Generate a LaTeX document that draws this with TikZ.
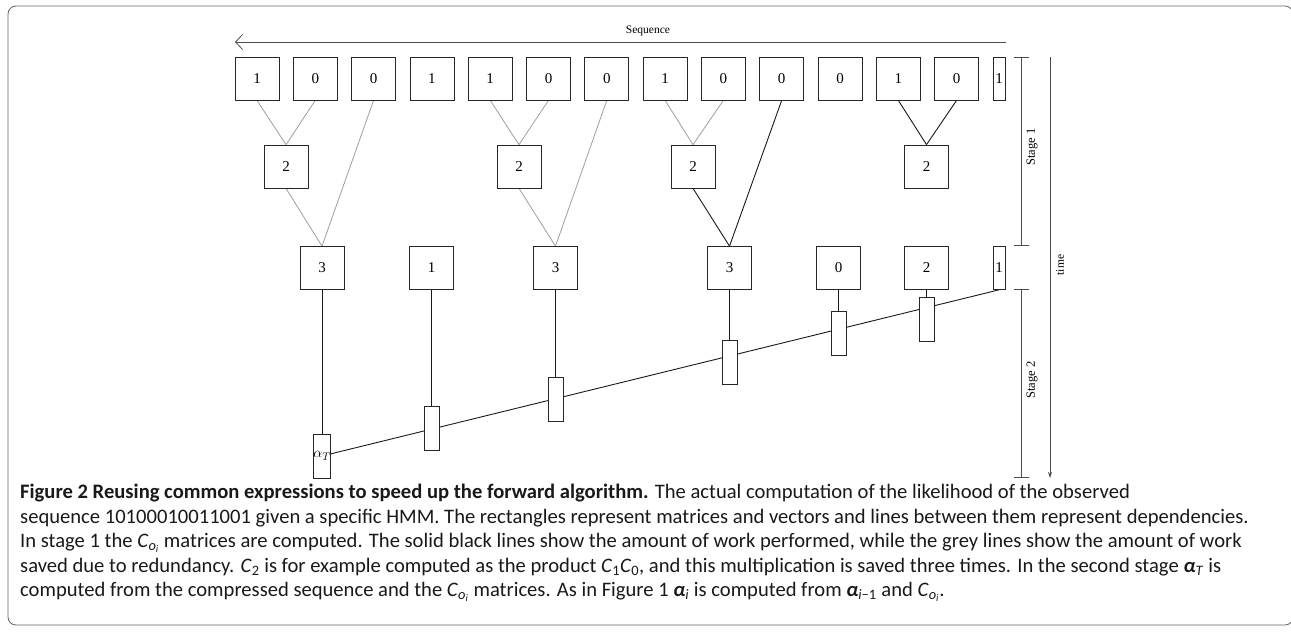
\documentclass[tikz,border=0pt]{standalone}
\usepackage{fontspec}
\setmainfont{Liberation Serif}
\newfontfamily\capfont{Carlito}
\usetikzlibrary{arrows.meta,backgrounds}
\newcommand{\Coi}{\textit{C}\textsubscript{\textit{o}\textsubscript{\textit{i}}}}
\newcommand{\balpha}{\textbf{\textit{α}}}
\begin{document}
\begin{tikzpicture}[x=1pt,y=-1pt,
  mbox/.style={draw=black!85, line width=0.7pt, fill=white, minimum width=44pt, minimum height=43pt, inner sep=0pt, font=\fontsize{15}{15}\selectfont},
  nbox/.style={mbox, minimum width=12pt},
  vbox/.style={draw=black!85, line width=0.7pt, fill=white, minimum width=15pt, minimum height=44pt, inner sep=0pt},
  saved/.style={draw=black!38, line width=0.8pt},
  work/.style={draw=black!90, line width=0.9pt},
  dep/.style={draw=black!90, line width=0.9pt},
  axis/.style={draw=black!70, line width=0.8pt},
  lbl/.style={font=\fontsize{12.5}{12.5}\selectfont, inner sep=0pt},
  capline/.style={anchor=base west, inner sep=0pt, font=\capfont\fontsize{20.6}{20.6}\selectfont, text=black!90}
]
\useasboundingbox (0,0) rectangle (1291,637);
\draw[draw=black!60, line width=0.8pt, rounded corners=8pt] (8,6) rectangle (1293,625);

% sequence arrow
\coordinate (sR) at (1006,42);
\coordinate (sL) at (235,42);
\draw[axis, -{Straight Barb[length=7pt,width=15pt]}] (sR) -- (sL);
\node[lbl, font=\fontsize{11.5}{11.5}\selectfont] (seq) at (648,31) {Sequence};

% top row
\foreach \i/\v in {0/1,1/0,2/0,3/1,4/1,5/0,6/0,7/1,8/0,9/0,10/0,11/1,12/0}
  \node[mbox] (t\i) at ({257+58.3*\i},78.5) {\v};
\node[nbox] (t13) at (999,78.5) {1};

% row 2
\node[mbox] (a0) at (286,166.5) {2};
\node[mbox] (a1) at (519,166.5) {2};
\node[mbox] (a2) at (693,166.5) {2};
\node[mbox] (a3) at (926.5,166.5) {2};

% row 3
\node[mbox] (b0) at (322,268) {3};
\node[mbox] (b1) at (431.5,268) {1};
\node[mbox] (b2) at (555.5,268) {3};
\node[mbox] (b3) at (729.5,268) {3};
\node[mbox] (b4) at (838.5,268) {0};
\node[mbox] (b5) at (926.5,268) {2};
\node[nbox] (b6) at (999,268) {1};

% vectors
\node[vbox] (v0) at (322,456) {\fontsize{15}{15}\selectfont$\alpha_T$};
\node[vbox] (v1) at (431.5,428) {};
\node[vbox] (v2) at (555.5,399) {};
\node[vbox] (v3) at (729.5,362) {};
\node[vbox] (v4) at (838.5,333) {};
\node[vbox] (v5) at (926.5,319) {};

\begin{scope}[on background layer]
  % stage 1: saved (grey)
  \draw[saved] (t0.south) -- (a0.north);
  \draw[saved] (t1.south) -- (a0.north);
  \draw[saved] (a0.south) -- (b0.north);
  \draw[saved] (t2.south) -- (b0.north);
  \draw[saved] (t4.south) -- (a1.north);
  \draw[saved] (t5.south) -- (a1.north);
  \draw[saved] (a1.south) -- (b2.north);
  \draw[saved] (t6.south) -- (b2.north);
  \draw[saved] (t7.south) -- (a2.north);
  \draw[saved] (t8.south) -- (a2.north);
  % stage 1: work (black)
  \draw[work] (a2.south) -- (b3.north);
  \draw[work] (t9.south) -- (b3.north);
  \draw[work] (t11.south) -- (a3.north);
  \draw[work] (t12.south) -- (a3.north);
  % stage 2
  \draw[dep] (b0.south) -- (v0.north);
  \draw[dep] (b1.south) -- (v1.north);
  \draw[dep] (b2.south) -- (v2.north);
  \draw[dep] (b3.south) -- (v3.north);
  \draw[dep] (b4.south) -- (v4.north);
  \draw[dep] (b5.south) -- (v5.north);
  \draw[dep] (v0.center) -- (b6.south);
\end{scope}

% stages and time
\coordinate (s1t) at (1021,57);
\coordinate (s1b) at (1021,246);
\coordinate (s2t) at (1021,289);
\coordinate (s2b) at (1021,478);
\draw[axis, {Bar[width=15pt]}-{Bar[width=15pt]}] (s1t) -- (s1b);
\draw[axis, {Bar[width=15pt]}-{Bar[width=15pt]}] (s2t) -- (s2b);
\node[lbl, rotate=90] (st1) at (1032,147) {Stage 1};
\node[lbl, rotate=90] (st2) at (1032,380) {Stage 2};
\coordinate (tt) at (1050,57);
\coordinate (tb) at (1050,478);
\draw[axis, -{Stealth[length=6pt,width=4pt]}] (tt) -- (tb);
\node[lbl, rotate=90, font=\fontsize{11.5}{11.5}\selectfont] (tm) at (1060,265) {time};

% caption
\node[capline] (c1) at (20,498) {\textbf{Figure 2 Reusing common expressions to speed up the forward algorithm.} The actual computation of the likelihood of the observed};
\node[capline] (c2) at (20,523) {sequence 10100010011001 given a specific HMM. The rectangles represent matrices and vectors and lines between them represent dependencies.};
\node[capline] (c3) at (20,547.5) {In stage 1 the \Coi\ matrices are computed. The solid black lines show the amount of work performed, while the grey lines show the amount of work};
\node[capline] (c4) at (20,572) {saved due to redundancy. \textit{C}\textsubscript{2} is for example computed as the product \textit{C}\textsubscript{1}\textit{C}\textsubscript{0}, and this multiplication is saved three times. In the second stage \balpha\textsubscript{\textit{T}} is};
\node[capline] (c5) at (20,596) {computed from the compressed sequence and the \Coi\ matrices. As in Figure 1 \balpha\textsubscript{\textit{i}} is computed from \balpha\textsubscript{\textit{i}−1} and \Coi.};
\end{tikzpicture}
\end{document}
